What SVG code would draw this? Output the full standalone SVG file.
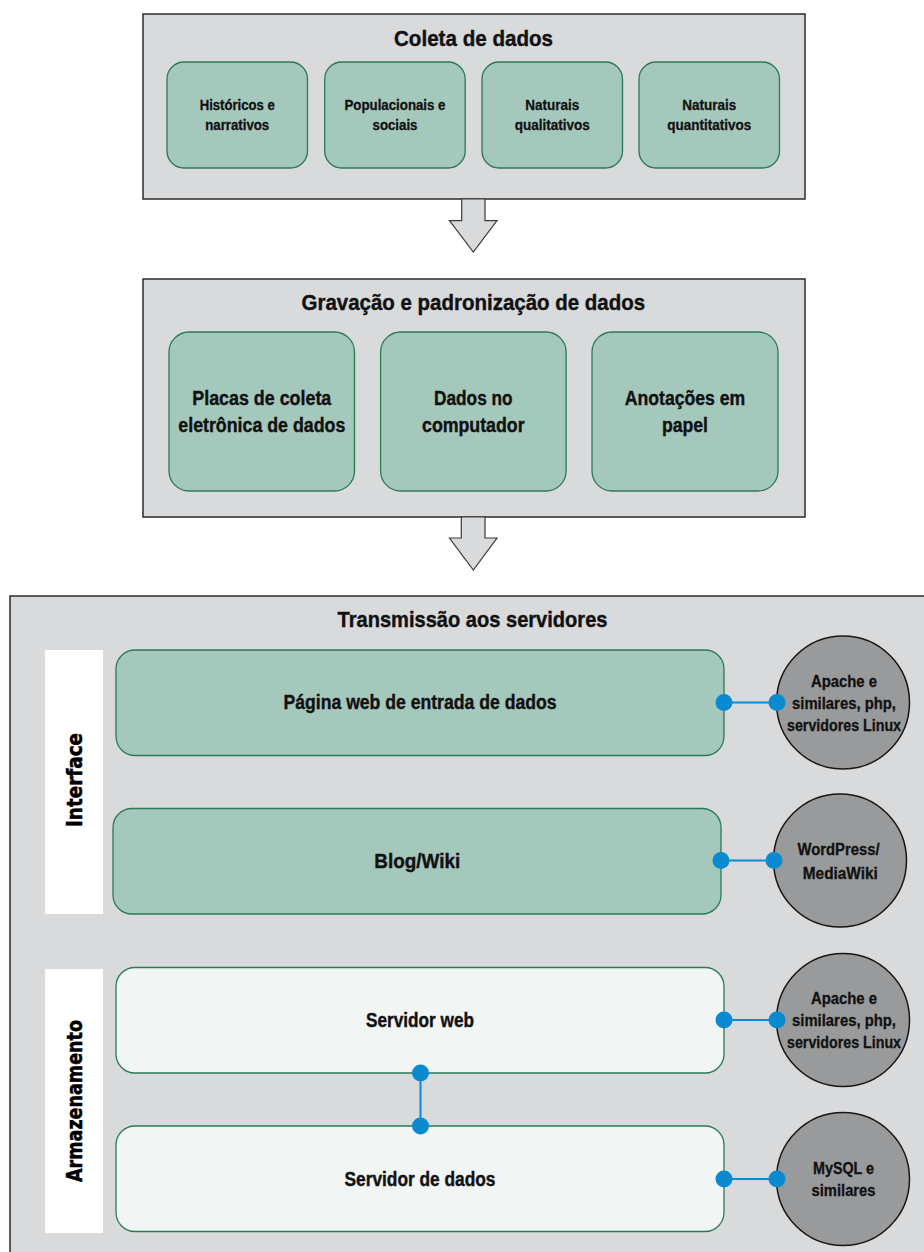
<svg xmlns="http://www.w3.org/2000/svg" width="924" height="1252" viewBox="0 0 924 1252">
<style>
.panel{fill:#d9dadc;stroke:#2b2b2b;stroke-width:1.5}
.green{fill:#a5c8bc;stroke:#2a7a55;stroke-width:1.3}
.light{fill:#f1f5f3;stroke:#2a7a55;stroke-width:1.3}
.side{fill:#ffffff}
.circ{fill:#999a9b;stroke:#161616;stroke-width:1.5}
.arrow{fill:#d9dadc;stroke:#3a3a3a;stroke-width:1.2}
.t{font-family:"Liberation Sans Narrow","Liberation Sans",Arial,sans-serif;font-weight:bold;fill:#111;stroke:#111;stroke-width:0.4;text-anchor:middle}
.h{font-size:22px}
.m{font-size:20px}
.s{font-size:14px;stroke-width:0.3}
.c{font-size:16px;stroke-width:0.3}
.v{font-family:"DejaVu Sans","Liberation Sans",sans-serif;font-weight:bold;font-size:21px;fill:#000;stroke:#000;stroke-width:0.5;text-anchor:middle}
.wire{stroke:#0a8ad0;stroke-width:2;fill:none}
.dot{fill:#0a8ad0}
</style>

<g id="coleta">
<rect class="panel" x="143" y="14" width="662" height="185"/>
<text class="t h" x="473.5" y="45.7" textLength="159" lengthAdjust="spacingAndGlyphs">Coleta de dados</text>
</g>
<g id="historicos">
<rect class="green" x="167" y="62" width="140.5" height="106" rx="17"/>
<text class="t s" x="237.2" y="110" textLength="75" lengthAdjust="spacingAndGlyphs">Históricos e</text>
<text class="t s" x="237.2" y="129.5" textLength="64" lengthAdjust="spacingAndGlyphs">narrativos</text>
</g>
<g id="populacionais">
<rect class="green" x="324.7" y="62" width="140.5" height="106" rx="17"/>
<text class="t s" x="395" y="110" textLength="101" lengthAdjust="spacingAndGlyphs">Populacionais e</text>
<text class="t s" x="395" y="129.5" textLength="45" lengthAdjust="spacingAndGlyphs">sociais</text>
</g>
<g id="naturais-qual">
<rect class="green" x="482" y="62" width="140.5" height="106" rx="17"/>
<text class="t s" x="552.2" y="110" textLength="54" lengthAdjust="spacingAndGlyphs">Naturais</text>
<text class="t s" x="552.2" y="129.5" textLength="75" lengthAdjust="spacingAndGlyphs">qualitativos</text>
</g>
<g id="naturais-quant">
<rect class="green" x="639" y="62" width="140.5" height="106" rx="17"/>
<text class="t s" x="709.2" y="110" textLength="54" lengthAdjust="spacingAndGlyphs">Naturais</text>
<text class="t s" x="709.2" y="129.5" textLength="84" lengthAdjust="spacingAndGlyphs">quantitativos</text>
</g>

<g id="arrow1">
<polygon class="arrow" points="461.7,199 485,199 485,220.7 497,220.7 473.3,252 449.5,220.7 461.7,220.7"/>
</g>

<g id="gravacao">
<rect class="panel" x="143" y="279" width="662" height="238"/>
<text class="t h" x="473.3" y="309.5" textLength="343.6" lengthAdjust="spacingAndGlyphs">Gravação e padronização de dados</text>
</g>
<g id="placas">
<rect class="green" x="169" y="332" width="185.5" height="159" rx="20"/>
<text class="t m" x="261.8" y="405" textLength="139" lengthAdjust="spacingAndGlyphs">Placas de coleta</text>
<text class="t m" x="261.8" y="431.5" textLength="167" lengthAdjust="spacingAndGlyphs">eletrônica de dados</text>
</g>
<g id="computador">
<rect class="green" x="380.6" y="332" width="185.5" height="159" rx="20"/>
<text class="t m" x="473.3" y="405" textLength="78.6" lengthAdjust="spacingAndGlyphs">Dados no</text>
<text class="t m" x="473.3" y="431.5" textLength="102.6" lengthAdjust="spacingAndGlyphs">computador</text>
</g>
<g id="anotacoes">
<rect class="green" x="592" y="332" width="186" height="159" rx="20"/>
<text class="t m" x="685" y="405" textLength="120.5" lengthAdjust="spacingAndGlyphs">Anotações em</text>
<text class="t m" x="685" y="431.5" textLength="46" lengthAdjust="spacingAndGlyphs">papel</text>
</g>

<g id="arrow2">
<polygon class="arrow" points="461.3,517 485,517 485,538 497,538 473.3,570 449.5,538 461.3,538"/>
</g>

<g id="transmissao">
<rect class="panel" x="10" y="596" width="940" height="680"/>
<text class="t h" x="472.5" y="627.3" textLength="270" lengthAdjust="spacingAndGlyphs">Transmissão aos servidores</text>
</g>

<g id="interface-label">
<rect class="side" x="45" y="650" width="58" height="264"/>
<text class="v" transform="translate(74.5,780) rotate(-90)" x="0" y="7.8" textLength="94" lengthAdjust="spacingAndGlyphs">Interface</text>
</g>
<g id="armazenamento-label">
<rect class="side" x="45" y="969" width="58" height="264"/>
<text class="v" transform="translate(74.5,1101) rotate(-90)" x="0" y="7.8" textLength="162" lengthAdjust="spacingAndGlyphs">Armazenamento</text>
</g>

<g id="pagina-web">
<rect class="green" x="116" y="650" width="608" height="105.5" rx="19"/>
<text class="t m" x="420" y="709" textLength="273" lengthAdjust="spacingAndGlyphs">Página web de entrada de dados</text>
</g>
<g id="blog-wiki">
<rect class="green" x="113" y="808.5" width="608" height="105.5" rx="19"/>
<text class="t m" x="417.3" y="867.5" textLength="86" lengthAdjust="spacingAndGlyphs">Blog/Wiki</text>
</g>
<g id="servidor-web">
<rect class="light" x="116" y="967.5" width="608" height="105.5" rx="19"/>
<text class="t m" x="420" y="1026.7" textLength="108" lengthAdjust="spacingAndGlyphs">Servidor web</text>
</g>
<g id="servidor-dados">
<rect class="light" x="116" y="1126" width="608" height="105.5" rx="19"/>
<text class="t m" x="420" y="1186" textLength="151" lengthAdjust="spacingAndGlyphs">Servidor de dados</text>
</g>

<g id="apache1">
<circle class="circ" cx="843" cy="702.5" r="66.5"/>
<text class="t c" x="844" y="686.7" textLength="66" lengthAdjust="spacingAndGlyphs">Apache e</text>
<text class="t c" x="844" y="708.5" textLength="104" lengthAdjust="spacingAndGlyphs">similares, php,</text>
<text class="t c" x="844" y="730.5" textLength="114" lengthAdjust="spacingAndGlyphs">servidores Linux</text>
</g>
<g id="wordpress">
<circle class="circ" cx="840" cy="860.5" r="66.5"/>
<text class="t c" x="838.5" y="855" textLength="82" lengthAdjust="spacingAndGlyphs">WordPress/</text>
<text class="t c" x="840.3" y="879.3" textLength="75" lengthAdjust="spacingAndGlyphs">MediaWiki</text>
</g>
<g id="apache2">
<circle class="circ" cx="843" cy="1020" r="66.5"/>
<text class="t c" x="844" y="1004" textLength="66" lengthAdjust="spacingAndGlyphs">Apache e</text>
<text class="t c" x="844" y="1025.8" textLength="104" lengthAdjust="spacingAndGlyphs">similares, php,</text>
<text class="t c" x="844" y="1047.5" textLength="114" lengthAdjust="spacingAndGlyphs">servidores Linux</text>
</g>
<g id="mysql">
<circle class="circ" cx="843" cy="1179" r="66.5"/>
<text class="t c" x="843.5" y="1173.5" textLength="61" lengthAdjust="spacingAndGlyphs">MySQL e</text>
<text class="t c" x="843.5" y="1195.6" textLength="64" lengthAdjust="spacingAndGlyphs">similares</text>
</g>

<g id="connectors">
<line class="wire" x1="724" y1="702.5" x2="777" y2="702.5"/>
<circle class="dot" cx="724" cy="702.5" r="8.5"/>
<circle class="dot" cx="777" cy="702.5" r="8.5"/>
<line class="wire" x1="721" y1="860.5" x2="774" y2="860.5"/>
<circle class="dot" cx="721" cy="860.5" r="8.5"/>
<circle class="dot" cx="774" cy="860.5" r="8.5"/>
<line class="wire" x1="724" y1="1020" x2="777" y2="1020"/>
<circle class="dot" cx="724" cy="1020" r="8.5"/>
<circle class="dot" cx="777" cy="1020" r="8.5"/>
<line class="wire" x1="724" y1="1179" x2="777" y2="1179"/>
<circle class="dot" cx="724" cy="1179" r="8.5"/>
<circle class="dot" cx="777" cy="1179" r="8.5"/>
<line class="wire" x1="420.5" y1="1073" x2="420.5" y2="1126"/>
<circle class="dot" cx="420.5" cy="1073" r="8.5"/>
<circle class="dot" cx="420.5" cy="1126" r="8.5"/>
</g>
</svg>
